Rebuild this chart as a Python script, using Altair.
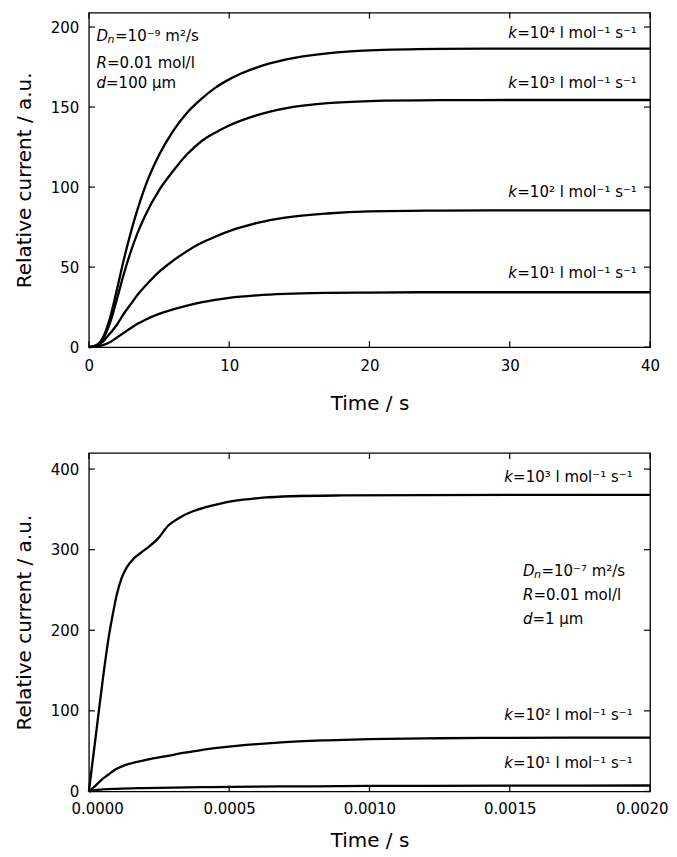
import altair as alt
import pandas as pd

FONT = "DejaVu Sans"

# ---------------- top panel (D_n = 1e-9 m2/s, d = 100 um) ----------------
t_top = [0, 0.5, 1, 1.5, 2, 2.5, 3, 3.5, 4, 5, 6, 7, 8, 9, 10, 12, 14, 17, 20, 25, 30, 40]
i_top_k4 = [0, 1, 6, 18, 36, 55, 72, 87, 100, 120, 135, 146.5, 155, 162, 167.3, 174.8, 179.6, 183.5, 185.4, 186.3, 186.5, 186.5]
i_top_k3 = [0, 1, 5, 15, 30, 46, 60, 72, 82, 98, 110, 120.5, 128.5, 134, 138.5, 145, 149.2, 152.4, 153.7, 154.3, 154.4, 154.4]
i_top_k2 = [0, 0.8, 3.5, 8.5, 14, 21, 27, 33, 38, 47, 54, 60, 65, 69, 72.5, 77.6, 80.9, 83.5, 84.8, 85.3, 85.5, 85.5]
i_top_k1 = [0, 0.3, 1.2, 3, 6, 9, 12, 14.7, 17, 20.8, 23.6, 26, 27.9, 29.5, 30.8, 32.4, 33.3, 33.9, 34.1, 34.3, 34.3, 34.3]

top_x_ticks = [0, 10, 20, 30, 40]
top_y_ticks = [0, 50, 100, 150, 200]

top_k_texts = ["=10\u2074  l mol\u207b\u00b9 s\u207b\u00b9", "=10\u00b3  l mol\u207b\u00b9 s\u207b\u00b9",
               "=10\u00b2  l mol\u207b\u00b9 s\u207b\u00b9", "=10\u00b9  l mol\u207b\u00b9 s\u207b\u00b9"]
top_k_x = 29.9
top_k_y = [196.5, 165.2, 96.9, 46.5]

top_block_x = 0.55
top_block_y = [194.4, 177.7, 164.8]
top_block_rest = ["=10\u207b\u2079 m\u00b2/s", "=0.01 mol/l", "=100 \u03bcm"]

# ---------------- bottom panel (D_n = 1e-7 m2/s, d = 1 um) ----------------
t_b_k3 = [0, 2.5e-5, 5e-5, 7e-5, 8.7e-5, 1.0e-4, 1.16e-4, 1.35e-4, 1.6e-4, 2.0e-4, 2.47e-4, 2.83e-4,
          3.2e-4, 3.66e-4, 4.2e-4, 4.84e-4, 5.5e-4, 6.2e-4, 7.2e-4, 9e-4, 1.2e-3, 2e-3]
i_b_k3 = [0, 70, 140, 190, 223, 245, 264, 278, 289, 300, 314, 330,
          339, 347, 353, 358.5, 362, 364.5, 366.3, 367.3, 367.8, 368]
t_b_k2 = [0, 2e-5, 4.5e-5, 7e-5, 9.3e-5, 1.2e-4, 1.52e-4, 2e-4, 2.71e-4, 3.3e-4, 3.9e-4, 5.08e-4,
          6.86e-4, 8.5e-4, 1e-3, 1.25e-3, 1.5e-3, 2e-3]
i_b_k2 = [0, 6, 14.5, 21, 26.9, 31.5, 35, 39, 43.4, 47.5, 50.8, 55.8,
          61, 63.5, 65, 66, 66.5, 66.8]
t_b_k1 = [0, 2e-5, 5e-5, 1e-4, 2e-4, 4e-4, 6e-4, 8e-4, 1e-3, 1.5e-3, 2e-3]
i_b_k1 = [0, 1.5, 2.5, 3.3, 4.2, 5.3, 6.0, 6.4, 6.8, 7.2, 7.4]

bot_x_ticks = [0, 0.0005, 0.001, 0.0015, 0.002]
bot_y_ticks = [0, 100, 200, 300, 400]

bot_k_texts = ["=10\u00b3  l mol\u207b\u00b9 s\u207b\u00b9", "=10\u00b2  l mol\u207b\u00b9 s\u207b\u00b9",
               "=10\u00b9  l mol\u207b\u00b9 s\u207b\u00b9"]
bot_k_x = 0.00148
bot_k_y = [390, 95, 35]

bot_block_x = 0.001547
bot_block_y = [273.9, 244, 214.4]
bot_block_rest = ["=10\u207b\u2077 m\u00b2/s", "=0.01 mol/l", "=1 \u03bcm"]

W, H1, H2 = 562, 335, 339
TICK = 6
TXT = 15


def long_df(pairs):
    rows = []
    for name, ts, vs in pairs:
        for t, v in zip(ts, vs):
            rows.append({"k": name, "t": t, "i": v})
    return pd.DataFrame(rows)


def panel(df, xs, ys, xticks, yticks, xfmt, H, k_texts, k_x, k_y, block_x, block_y, block_rest,
          lab_pad, title_pad, flush):
    if flush:
        xaxis = alt.Axis(values=xticks, format=xfmt, title="Time / s",
                         labelPadding=lab_pad, titlePadding=title_pad,
                         labelFlush=True, labelFlushOffset=18)
    else:
        xaxis = alt.Axis(values=xticks, format=xfmt, title="Time / s",
                         labelPadding=lab_pad, titlePadding=title_pad)
    yaxis = alt.Axis(values=yticks, title="Relative current / a.u.")

    def X(f="t"):
        return alt.X(f + ":Q", scale=xs, axis=xaxis)

    def Y(f="i"):
        return alt.Y(f + ":Q", scale=ys, axis=yaxis)

    def text_layer(xv, yv, s, dx=0, dy=0, italic=False, size=TXT):
        d = pd.DataFrame({"t": [xv], "i": [yv], "s": [s]})
        return alt.Chart(d).mark_text(
            align="left", baseline="middle", dx=dx, dy=dy, font=FONT, fontSize=size,
            fontStyle="italic" if italic else "normal", color="black"
        ).encode(x=X(), y=Y(), text="s:N")

    lines = alt.Chart(df).mark_line(color="black", strokeWidth=2.3, interpolate="monotone").encode(
        x=X(), y=Y(), detail="k:N")

    dfx = pd.DataFrame({"t": xticks})
    dfy = pd.DataFrame({"i": yticks})
    r = dict(color="black", strokeWidth=1.2)
    layers = [
        lines,
        alt.Chart(dfx).mark_rule(**r).encode(x=X(), y=alt.value(0), y2=alt.value(TICK)),
        alt.Chart(dfx).mark_rule(**r).encode(x=X(), y=alt.value(H), y2=alt.value(H - TICK)),
        alt.Chart(dfy).mark_rule(**r).encode(y=Y(), x=alt.value(0), x2=alt.value(TICK)),
        alt.Chart(dfy).mark_rule(**r).encode(y=Y(), x=alt.value(W), x2=alt.value(W - TICK)),
    ]
    for s, yv in zip(k_texts, k_y):
        layers.append(text_layer(k_x, yv, "k", italic=True))
        layers.append(text_layer(k_x, yv, s, dx=9))
    layers.append(text_layer(block_x, block_y[0], "D", italic=True))
    layers.append(text_layer(block_x, block_y[0], "n", dx=11, dy=4, italic=True, size=11))
    layers.append(text_layer(block_x, block_y[0], block_rest[0], dx=18.5))
    layers.append(text_layer(block_x, block_y[1], "R", italic=True))
    layers.append(text_layer(block_x, block_y[1], block_rest[1], dx=10.5))
    layers.append(text_layer(block_x, block_y[2], "d", italic=True))
    layers.append(text_layer(block_x, block_y[2], block_rest[2], dx=9.5))
    return alt.layer(*layers).properties(width=W, height=H)


df_top = long_df([("1e4", t_top, i_top_k4), ("1e3", t_top, i_top_k3),
                  ("1e2", t_top, i_top_k2), ("1e1", t_top, i_top_k1)])
df_bot = long_df([("1e3", t_b_k3, i_b_k3), ("1e2", t_b_k2, i_b_k2), ("1e1", t_b_k1, i_b_k1)])

xs_top = alt.Scale(domain=[0, 40], nice=False, zero=False)
ys_top = alt.Scale(domain=[0, 209], nice=False, zero=False)
xs_bot = alt.Scale(domain=[0, 0.002], nice=False, zero=False)
ys_bot = alt.Scale(domain=[0, 420], nice=False, zero=False)

top = panel(df_top, xs_top, ys_top, top_x_ticks, top_y_ticks, "d", H1,
            top_k_texts, top_k_x, top_k_y, top_block_x, top_block_y, top_block_rest, 11, 20, False)
bottom = panel(df_bot, xs_bot, ys_bot, bot_x_ticks, bot_y_ticks, ".4f", H2,
               bot_k_texts, bot_k_x, bot_k_y, bot_block_x, bot_block_y, bot_block_rest, 10, 14, True)

chart = alt.vconcat(top, bottom, spacing=37).properties(
    padding={"left": 5, "top": 2, "right": 0, "bottom": 0}
).configure_view(
    stroke="black", strokeWidth=1.3
).configure_axis(
    domain=False, ticks=False, tickSize=0, grid=False,
    labelFont=FONT, labelFontSize=15, labelColor="black", labelFlush=False, labelOverlap=False,
    titleFont=FONT, titleFontSize=20, titleFontWeight="normal", titleColor="black",
).configure_axisY(
    labelPadding=10, titlePadding=16,
)

chart.save("out.html", embed_options={"renderer": "svg", "actions": False})
